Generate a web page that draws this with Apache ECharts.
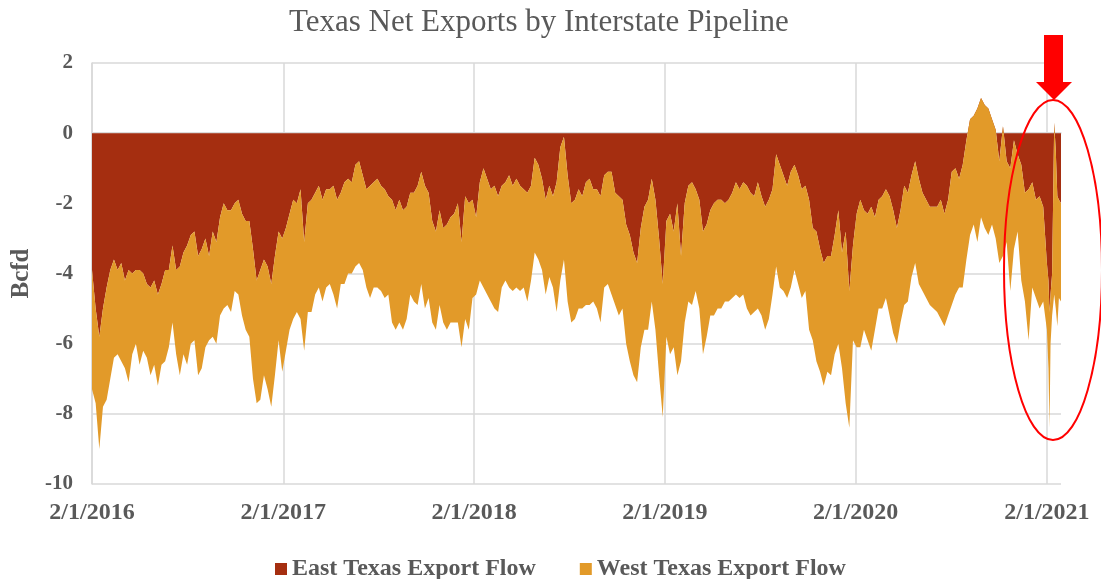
<!DOCTYPE html>
<html>
<head>
<meta charset="utf-8">
<script src="https://cdn.jsdelivr.net/npm/echarts@6/dist/echarts.min.js"></script>
<style>
  html, body { margin: 0; padding: 0; background: #ffffff; }
  #chart { width: 1101px; height: 579px; }
</style>
</head>
<body>
<div id="chart"></div>
<script>
// Net pipeline exports out of Texas, Bcf/d (negative = gas leaving the state).
const chartTitle = 'Texas Net Exports by Interstate Pipeline';
const seriesNames = ['East Texas Export Flow', 'West Texas Export Flow'];
const yAxisName = 'Bcfd';

// Weekly readings, starting Monday 2016-02-01, one value per week.
const firstWeek = '2016-02-01';

const eastWeekly = [
  -3.9, -5.0, -5.8, -5.0, -4.4, -3.9, -3.6, -3.9, -3.7, -4.2,
  -3.9, -4.0, -3.9, -3.9, -4.0, -4.3, -4.4, -4.2, -4.6, -4.3,
  -3.9, -3.9, -3.2, -3.9, -3.8, -3.4, -3.2, -2.9, -2.8, -3.5,
  -3.3, -3.0, -3.5, -2.8, -3.1, -2.4, -2.0, -2.2, -2.2, -2.0,
  -1.9, -2.3, -2.5, -2.5, -3.3, -4.2, -3.9, -3.6, -3.8, -4.3,
  -3.5, -2.8, -3.0, -2.7, -2.3, -1.9, -2.0, -1.6, -3.1, -2.0,
  -1.9, -1.7, -1.5, -1.9, -1.6, -1.6, -1.5, -1.9, -1.7, -1.4,
  -1.3, -1.4, -0.9, -0.8, -1.2, -1.6, -1.5, -1.4, -1.3, -1.5,
  -1.6, -1.8, -1.9, -2.2, -1.9, -2.2, -2.1, -1.7, -1.7, -1.5,
  -1.1, -1.5, -1.7, -2.5, -2.8, -2.2, -2.7, -2.6, -2.4, -2.3,
  -2.0, -3.1, -1.8, -2.0, -1.9, -2.4, -1.4, -1.0, -1.3, -1.6,
  -1.5, -1.8, -1.5, -1.4, -1.2, -1.5, -1.3, -1.5, -1.6, -1.7,
  -1.5, -0.7, -0.9, -1.3, -1.9, -1.5, -1.8, -1.4, -0.4, -0.1,
  -1.2, -2.0, -1.9, -1.6, -1.8, -1.4, -1.3, -1.6, -1.6, -1.8,
  -1.2, -1.1, -1.1, -1.7, -1.8, -1.9, -2.6, -2.9, -3.4, -3.7,
  -2.7, -2.1, -1.9, -1.3, -1.9, -3.0, -4.3, -2.5, -2.3, -2.8,
  -2.0, -3.5, -2.0, -1.5, -1.4, -1.6, -1.9, -2.8, -2.6, -2.2,
  -2.0, -1.9, -1.9, -2.0, -1.9, -1.7, -1.4, -1.6, -1.4, -1.5,
  -1.7, -1.8, -1.4, -1.8, -2.1, -1.9, -1.6, -0.6, -0.9, -1.2,
  -1.5, -1.1, -0.9, -1.2, -1.6, -1.5, -1.9, -2.7, -2.8, -3.3,
  -3.7, -3.5, -3.5, -2.9, -2.2, -3.4, -2.8, -4.5, -3.2, -2.3,
  -1.9, -2.2, -2.3, -2.1, -2.4, -1.9, -1.8, -1.6, -1.8, -2.2,
  -2.7, -2.2, -1.5, -1.7, -1.2, -0.8, -1.3, -1.7, -1.9, -2.1,
  -2.1, -2.1, -1.9, -2.3, -1.9, -1.1, -1.0, -1.3, -0.9, -0.2,
   0.4,  0.5,  0.7,  1.0,  0.8,  0.7,  0.4,  0.1, -0.8,  0.2,
  -0.8, -1.0, -0.2, -0.6, -0.9, -1.7, -1.6, -1.4, -1.9, -1.8,
  -2.1
];

const westWeekly = [
  -3.4, -2.7, -3.2, -2.8, -3.2, -3.1, -2.8, -2.4, -2.8, -2.5,
  -3.2, -2.3, -2.1, -2.7, -2.2, -2.1, -2.5, -2.4, -2.6, -2.3,
  -2.6, -2.2, -2.2, -2.4, -3.1, -2.9, -3.4, -3.1, -3.1, -3.4,
  -3.4, -3.1, -2.4, -3.0, -2.9, -2.8, -3.0, -2.7, -2.9, -2.5,
  -2.7, -2.9, -3.1, -3.3, -3.7, -3.5, -3.7, -3.3, -3.5, -3.5,
  -3.4, -3.1, -3.8, -3.5, -3.3, -3.4, -3.1, -3.7, -3.1, -3.1,
  -3.2, -2.9, -2.9, -2.9, -2.8, -2.7, -3.1, -3.1, -2.6, -2.9,
  -2.7, -2.6, -2.9, -2.9, -2.7, -2.8, -3.2, -3.0, -3.1, -3.0,
  -3.1, -2.8, -3.5, -3.4, -3.5, -3.4, -3.2, -2.9, -3.1, -3.4,
  -3.2, -3.5, -3.0, -2.9, -2.8, -2.7, -2.7, -3.0, -3.0, -3.1,
  -3.4, -3.0, -3.5, -3.6, -2.8, -2.2, -2.8, -3.4, -3.3, -3.2,
  -3.5, -3.3, -2.9, -2.8, -3.2, -3.0, -3.1, -3.0, -2.8, -3.1,
  -2.7, -2.7, -2.7, -2.6, -2.7, -2.6, -2.6, -3.7, -3.8, -3.5,
  -3.6, -3.4, -3.4, -3.4, -3.2, -3.5, -3.6, -3.2, -3.4, -3.6,
  -3.2, -3.2, -3.5, -3.2, -3.4, -3.1, -3.4, -3.6, -3.5, -3.4,
  -3.4, -3.5, -3.7, -3.5, -3.7, -3.9, -3.8, -3.3, -4.0, -3.3,
  -4.9, -3.0, -3.4, -3.3, -3.5, -2.9, -3.1, -3.5, -3.2, -3.0,
  -3.2, -3.1, -3.1, -2.8, -2.9, -3.0, -3.2, -3.1, -3.2, -3.5,
  -3.5, -3.3, -3.6, -3.4, -3.5, -3.4, -3.0, -3.2, -3.5, -3.3,
  -3.2, -3.3, -3.0, -3.1, -3.1, -3.0, -3.7, -3.2, -3.7, -3.5,
  -3.5, -3.3, -3.4, -3.4, -3.8, -3.3, -4.9, -3.9, -2.7, -3.8,
  -4.2, -3.4, -3.6, -4.1, -3.2, -3.1, -3.2, -3.1, -3.4, -3.5,
  -3.3, -3.2, -3.4, -3.1, -2.9, -2.9, -3.0, -2.8, -2.8, -2.8,
  -2.9, -3.0, -3.4, -3.2, -3.3, -3.8, -3.6, -3.1, -3.5, -3.4,
  -3.3, -3.1, -3.8, -3.4, -3.5, -3.6, -3.0, -3.1, -2.9, -3.7,
  -2.3, -3.5, -3.1, -2.2, -3.3, -3.1, -4.3, -3.0, -2.8, -3.2,
  -2.7
];

// February 2021 readings at finer spacing.
const tailDates = ['2021-02-01', '2021-02-04', '2021-02-06', '2021-02-08', '2021-02-11',
                   '2021-02-15', '2021-02-18', '2021-02-21', '2021-02-24', '2021-02-28'];
const eastTail = [-3.7, -4.2, -5.1, -4.6, -4.0, 0.3, -0.5, -1.8, -1.9, -2.0];
const westTail = [-1.9, -2.5, -3.3, -1.4, -1.2, -4.9, -4.5, -3.7, -2.8, -2.8];

// Labelled dates on the horizontal axis.
const tickDates = ['2016-02-01', '2017-02-01', '2018-02-01', '2019-02-01', '2020-02-01', '2021-02-01'];

// The horizontal axis runs in days counted from the first week.
const DAY = 86400000;
const toUTC = s => { const p = s.split('-').map(Number); return Date.UTC(p[0], p[1] - 1, p[2]); };
const t0 = toUTC(firstWeek);
const dayOf = s => Math.round((toUTC(s) - t0) / DAY);
const days = eastWeekly.map((_, i) => i * 7).concat(tailDates.map(dayOf));
const eastValues = eastWeekly.concat(eastTail);
const westValues = westWeekly.concat(westTail);
const tickDays = tickDates.map(dayOf);

const fmtDay = v => {
  const d = new Date(t0 + Math.round(v) * DAY);
  return (d.getUTCMonth() + 1) + '/' + d.getUTCDate() + '/' + d.getUTCFullYear();
};

const FONT = "'Liberation Serif', 'DejaVu Serif', serif";
const TEXT = '#595959';
const GRID = '#d9d9d9';
const RED = '#a52e10';
const ORANGE = '#e29a29';

// Rows are [flow, day]: the flow column comes first so the stack runs on the vertical axis.
const rowsOf = vals => vals.map((v, i) => [v, days[i]]);

const chart = echarts.init(document.getElementById('chart'), null, { renderer: 'canvas' });
chart.setOption({
  animation: false,
  backgroundColor: '#ffffff',
  title: {
    text: chartTitle,
    left: 284,
    top: 2,
    textStyle: { fontFamily: FONT, fontSize: 31, fontWeight: 'normal', color: TEXT }
  },
  legend: {
    top: 552,
    left: 270,
    itemWidth: 12,
    itemHeight: 12,
    itemGap: 44,
    icon: 'rect',
    textStyle: { fontFamily: FONT, fontSize: 24, fontWeight: 'bold', color: TEXT },
    data: seriesNames
  },
  grid: { left: 92, right: 40, top: 63, bottom: 95, containLabel: false },
  xAxis: {
    type: 'value',
    min: 0,
    max: days[days.length - 1],
    axisLine: { show: true, lineStyle: { color: GRID, width: 1.5 } },
    axisTick: { show: false, customValues: tickDays },
    axisLabel: {
      customValues: tickDays,
      formatter: fmtDay,
      fontFamily: FONT, fontSize: 24, fontWeight: 'bold', color: TEXT,
      margin: 17, hideOverlap: false
    },
    splitLine: { show: true, lineStyle: { color: GRID, width: 1.5 } }
  },
  yAxis: {
    type: 'value',
    min: -10, max: 2, interval: 2,
    name: yAxisName,
    nameLocation: 'middle',
    nameGap: 53,
    nameTextStyle: { fontFamily: FONT, fontSize: 25, fontWeight: 'bold', color: TEXT },
    axisLine: { show: true, lineStyle: { color: GRID, width: 1.5 } },
    axisTick: { show: false },
    axisLabel: { fontFamily: FONT, fontSize: 21, fontWeight: 'bold', color: TEXT, margin: 19 },
    splitLine: { show: true, lineStyle: { color: GRID, width: 1.5 } }
  },
  series: [
    {
      name: seriesNames[0], type: 'line', stack: 'net', stackStrategy: 'all',
      data: rowsOf(eastValues), encode: { x: 1, y: 0 },
      symbol: 'none', lineStyle: { width: 0 },
      itemStyle: { color: RED }, areaStyle: { color: RED, opacity: 1 }
    },
    {
      name: seriesNames[1], type: 'line', stack: 'net', stackStrategy: 'all',
      data: rowsOf(westValues), encode: { x: 1, y: 0 },
      symbol: 'none', lineStyle: { width: 0 },
      itemStyle: { color: ORANGE }, areaStyle: { color: ORANGE, opacity: 1 }
    }
  ],
  graphic: [
    {
      type: 'ellipse', z: 100,
      shape: { cx: 1053, cy: 270, rx: 49, ry: 170 },
      style: { fill: 'none', stroke: '#ff0000', lineWidth: 2 }
    },
    {
      type: 'polygon', z: 101,
      shape: { points: [[1044, 35], [1063, 35], [1063, 82], [1072, 82], [1054, 100], [1036, 82], [1044, 82]] },
      style: { fill: '#ff0000' }
    }
  ]
});
</script>
</body>
</html>
